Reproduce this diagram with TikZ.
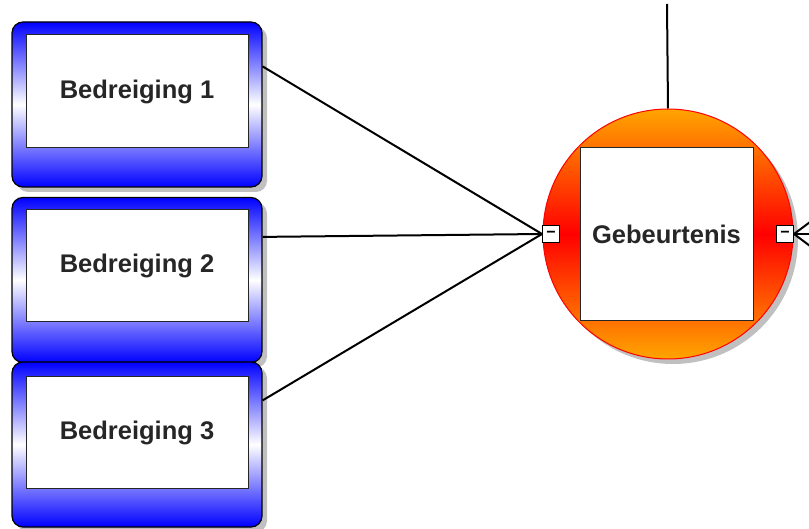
\documentclass[tikz,border=0pt]{standalone}
\usepackage{fontspec}
\setmainfont{Liberation Sans}
\usetikzlibrary{shadows}
\definecolor{threatblue}{RGB}{0, 0, 255}
\definecolor{eventorange}{RGB}{255, 165, 0}
\definecolor{eventred}{RGB}{255, 0, 0}
\definecolor{shadowgrey}{RGB}{192, 192, 192}
\tikzstyle{threat} = [
  draw=black,
  line width=1.2pt,
  rounded corners=11pt,
  minimum width=250pt,
  minimum height=165pt,
  top color=threatblue,
  bottom color=threatblue,
  middle color=white,
  drop shadow={shadow xshift=5pt, shadow yshift=-5pt, fill=shadowgrey, opacity=1},
]
\tikzstyle{label} = [
  draw=black!85,
  fill=white,
  line width=1pt,
  font=\fontsize{25.5}{30}\selectfont\bfseries,
  text=black!85,
]
\tikzstyle{event} = [
  circle,
  draw=eventred,
  line width=1pt,
  minimum size=250pt,
  top color=eventorange,
  bottom color=eventorange,
  middle color=eventred,
  drop shadow={shadow xshift=5pt, shadow yshift=-5pt, fill=shadowgrey, opacity=1},
]
\tikzstyle{port} = [
  draw=black,
  fill=white,
  line width=1pt,
  minimum size=17pt,
  inner sep=0pt,
  font=\fontsize{16}{16}\selectfont\bfseries,
]
\tikzstyle{link} = [
  line width=2pt,
  draw=black,
]

\begin{document}
\begin{tikzpicture}[x=1pt, y=-1pt]
  \useasboundingbox (0,0) rectangle (809,529);

  % Threats
  \node[threat] (b1) at (137,104.5) {};
  \node[threat] (b2) at (137,280) {};
  \node[threat] (b3) at (137,444.5) {};
  \node[label, minimum width=222pt, minimum height=113pt] (t1) at ([yshift=13pt]b1.center) {Bedreiging 1};
  \node[label, minimum width=222pt, minimum height=112pt] (t2) at ([yshift=14pt]b2.center) {Bedreiging 2};
  \node[label, minimum width=222pt, minimum height=112pt] (t3) at ([yshift=12pt]b3.center) {Bedreiging 3};

  % Event
  \node[event] (ev) at (668,234) {};
  \node[label, minimum size=173pt] (evl) at ([xshift=-1.5pt]ev.center) {Gebeurtenis};
  \node[port] (lport) at ([xshift=8.5pt]ev.west) {−};
  \node[port] (rport) at ([xshift=-8.5pt]ev.east) {−};

  % Loose ends
  \coordinate (top) at (667,4);
  \coordinate (r1) at (830,207);
  \coordinate (r2) at (830,234);
  \coordinate (r3) at (830,261);

  % Connectors
  \draw[link] ([yshift=-45pt]b1.north east) -- (lport.west);
  \draw[link] ([yshift=-40pt]b2.north east) -- (lport.west);
  \draw[link] ([yshift=-39pt]b3.north east) -- (lport.west);
  \draw[link] (top) -- (ev.north);
  \draw[link] (rport.east) -- (r1);
  \draw[link] (rport.east) -- (r2);
  \draw[link] (rport.east) -- (r3);
\end{tikzpicture}
\end{document}
